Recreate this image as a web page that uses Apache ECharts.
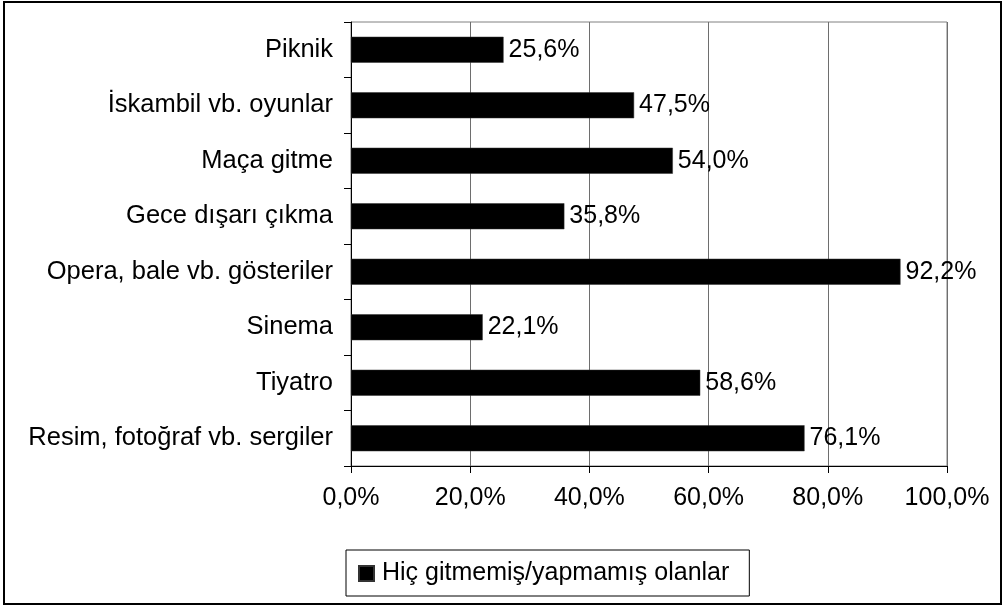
<!DOCTYPE html>
<html>
<head>
<meta charset="utf-8">
<script src="https://cdn.jsdelivr.net/npm/echarts@6/dist/echarts.min.js"></script>
<style>
  html, body { margin: 0; padding: 0; background: #fff; }
  #main { width: 1002px; height: 606px; }
</style>
</head>
<body>
<div id="main"></div>
<script>
// kategoriler (yukaridan asagiya)
var categories = [
  "Piknik",
  "İskambil vb. oyunlar",
  "Maça gitme",
  "Gece dışarı çıkma",
  "Opera, bale vb. gösteriler",
  "Sinema",
  "Tiyatro",
  "Resim, fotoğraf vb. sergiler"
];
var values = [25.6, 47.5, 54.0, 35.8, 92.2, 22.1, 58.6, 76.1];
var seriesName = "Hiç gitmemiş/yapmamış olanlar";
var xTicks = { min: 0, max: 100, interval: 20 };

function pct(v) {
  return Number(v).toFixed(1).replace(".", ",") + "%";
}

var font = "Liberation Sans, Arial, sans-serif";
var myChart = echarts.init(document.getElementById("main"));

myChart.setOption({
  animation: false,
  textStyle: { fontFamily: font },
  graphic: [
    {
      type: "rect",
      shape: { x: 4, y: 2, width: 997, height: 602 },
      style: { fill: "none", stroke: "#000", lineWidth: 2 },
      silent: true
    }
  ],
  grid: {
    left: 351,
    right: 55,
    top: 22,
    bottom: 140,
    show: true,
    borderColor: "#808080",
    borderWidth: 1
  },
  legend: {
    data: [seriesName],
    left: 346,
    top: 550,
    padding: [11, 20, 10, 12],
    borderColor: "#000",
    borderWidth: 1,
    icon: "rect",
    itemWidth: 15,
    itemHeight: 15,
    textStyle: { fontSize: 25, color: "#000", fontFamily: font, padding: [0, 0, 0, 3] }
  },
  xAxis: {
    type: "value",
    min: xTicks.min,
    max: xTicks.max,
    interval: xTicks.interval,
    axisLine: { show: true, lineStyle: { color: "#000", width: 1 } },
    axisTick: { show: true, length: 7, lineStyle: { color: "#000" } },
    axisLabel: {
      formatter: pct,
      fontSize: 25,
      color: "#000",
      margin: 20,
      fontFamily: font
    },
    splitLine: { show: true, lineStyle: { color: "#6e6e6e", width: 1 } }
  },
  yAxis: {
    type: "category",
    data: categories,
    inverse: true,
    axisLine: { show: true, lineStyle: { color: "#000", width: 1 } },
    axisTick: { show: true, length: 7, lineStyle: { color: "#000" } },
    axisLabel: {
      fontSize: 25.5,
      color: "#000",
      margin: 18,
      fontFamily: font
    },
    splitLine: { show: false }
  },
  series: [
    {
      name: seriesName,
      type: "bar",
      data: values,
      barWidth: 26,
      itemStyle: { color: "#000", borderColor: "#333", borderWidth: 0.5 },
      label: {
        show: true,
        position: "right",
        distance: 5,
        formatter: function (p) { return pct(p.value); },
        fontSize: 25,
        color: "#000",
        fontFamily: font
      }
    }
  ]
});
</script>
</body>
</html>
